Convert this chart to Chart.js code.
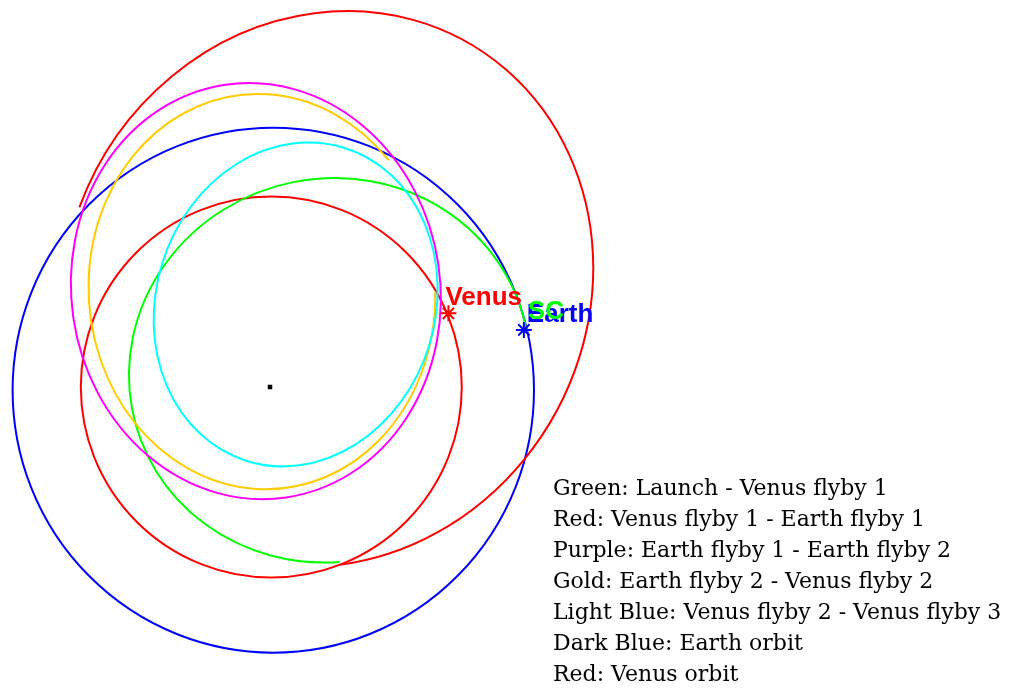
<!DOCTYPE html>
<html>
<head>
<meta charset="utf-8">
<script src="https://cdn.jsdelivr.net/npm/chart.js@4"></script>
<style>
  body { margin: 0; background: #fff; }
  #wrap { position: relative; width: 1014px; height: 688px; }
  #legend {
    position: absolute; left: 553px; top: 472px;
    font-family: "DejaVu Serif", serif; font-size: 22px; line-height: 31px;
    color: #000; white-space: nowrap;
  }
</style>
</head>
<body>
<div id="wrap">
  <canvas id="orbitChart"></canvas>
  <div id="legend"></div>
</div>
<script>
// everything in AU, Sun at (0, 0)
// ellipses: centre, semi axes, tilt of the first axis (deg), arc from/to (deg, counter-clockwise)
const orbitNames   = ["Earth orbit", "Venus orbit", "Launch - Venus flyby 1", "Venus flyby 1 - Earth flyby 1",
                      "Earth flyby 1 - Earth flyby 2", "Earth flyby 2 - Venus flyby 2", "Venus flyby 2 - Venus flyby 3"]
const orbitCenterX = [0.0126, 0.005, 0.227, 0.218, -0.054, -0.031, 0.098]
const orbitCenterY = [-0.0122, 0.0, 0.064, 0.374, 0.366, 0.364, 0.315]
const orbitSemiX   = [0.995, 0.727, 0.768, 1.083, 0.704, 0.661, 0.533]
const orbitSemiY   = [1.002, 0.727, 0.731, 0.992, 0.796, 0.755, 0.626]
const orbitTilt    = [0, 0, 15.8, 59.8, 8.4, 4.9, -17.4]
const arcFrom      = [0, 0, -5, -144.8, 0, 37.4, 0]
const arcTo        = [360, 360, 257.9, 101.0, 360, 355.7, 360]

const planetNames = ["Venus", "Earth"]
const planetX = [0.681, 0.969]
const planetY = [0.281, 0.218]

const craftLabel = "SC"
const craftX = 0.969
const craftY = 0.218

const sunX = 0
const sunY = 0

const legendLines = [
    "Green: Launch - Venus flyby 1",
    "Red: Venus flyby 1 - Earth flyby 1",
    "Purple: Earth flyby 1 - Earth flyby 2",
    "Gold: Earth flyby 2 - Venus flyby 2",
    "Light Blue: Venus flyby 2 - Venus flyby 3",
    "Dark Blue: Earth orbit",
    "Red: Venus orbit"
]

const orbitColors = ["#0000ff", "#ff0000", "#00ff00", "#ff0000", "#ff00ff", "#ffcc00", "#00ffff"]
const planetColors = ["#ff0000", "#0000ff"]

document.getElementById("legend").innerHTML = legendLines.map(l => "<div>" + l + "</div>").join("")

const orbitPlugin = {
    id: "orbits",
    beforeDatasetsDraw(chart) {
        const { ctx, scales: { x, y } } = chart
        const kx = x.getPixelForValue(1) - x.getPixelForValue(0)
        const ky = y.getPixelForValue(0) - y.getPixelForValue(1)
        const rad = Math.PI / 180
        ctx.save()
        ctx.lineWidth = 2
        orbitNames.forEach((name, i) => {
            ctx.beginPath()
            ctx.strokeStyle = orbitColors[i]
            ctx.ellipse(
                x.getPixelForValue(orbitCenterX[i]), y.getPixelForValue(orbitCenterY[i]),
                orbitSemiX[i] * kx, orbitSemiY[i] * ky,
                -orbitTilt[i] * rad, -arcFrom[i] * rad, -arcTo[i] * rad, true)
            ctx.stroke()
        })
        ctx.restore()
    },
    afterDatasetsDraw(chart) {
        const { ctx, scales: { x, y } } = chart
        ctx.save()
        ctx.font = "bold 26px 'Liberation Sans', Arial, sans-serif"
        ctx.textBaseline = "alphabetic"
        // Venus label sits up-left of its star, Earth label up-right
        const offsets = [[-3, -8], [3, -8]]
        planetNames.forEach((name, i) => {
            ctx.fillStyle = planetColors[i]
            ctx.fillText(name, x.getPixelForValue(planetX[i]) + offsets[i][0], y.getPixelForValue(planetY[i]) + offsets[i][1])
        })
        ctx.fillStyle = "#00ff00"
        ctx.fillText(craftLabel, x.getPixelForValue(craftX) + 4, y.getPixelForValue(craftY) - 11)
        ctx.restore()
    }
}

new Chart(document.getElementById("orbitChart"), {
    type: "scatter",
    data: {
        datasets: [{
            data: [{ x: sunX, y: sunY }],
            pointStyle: "rect",
            pointRadius: 3.2,
            backgroundColor: "#000",
            borderWidth: 0
        }, {
            data: planetNames.map((n, i) => ({ x: planetX[i], y: planetY[i] })),
            pointStyle: "star",
            pointRadius: 8,
            borderWidth: 2,
            borderColor: planetColors,
            backgroundColor: planetColors
        }]
    },
    options: {
        responsive: true,
        maintainAspectRatio: false,
        animation: false,
        events: [],
        layout: { padding: 0, autoPadding: false },
        plugins: {
            legend: { display: false },
            tooltip: { enabled: false }
        },
        scales: {
            x: { type: "linear", display: false, min: -1.0305, max: 2.8397 },
            y: { type: "linear", display: false, min: -1.1489, max: 1.4771 }
        }
    },
    plugins: [orbitPlugin]
})
</script>
</body>
</html>
